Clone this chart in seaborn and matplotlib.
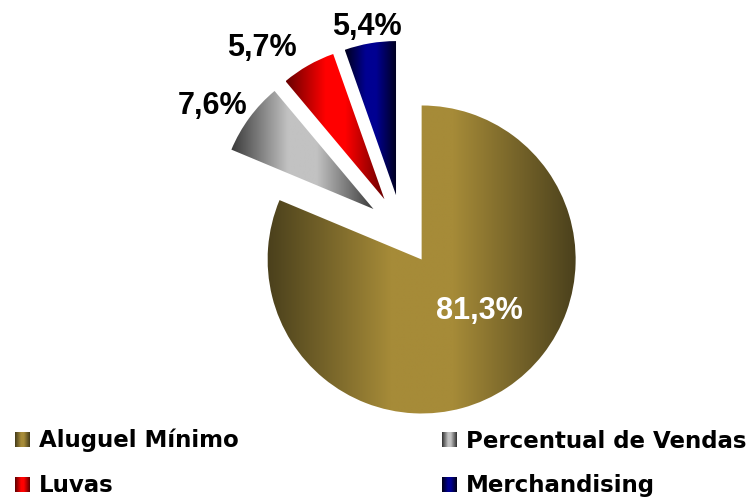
import numpy as np
import matplotlib
matplotlib.use("Agg")
import matplotlib.pyplot as plt
from matplotlib.patches import Rectangle
from matplotlib.legend_handler import HandlerBase
import seaborn as sns

# Composição da receita
categories = ["Aluguel Mínimo", "Percentual de Vendas", "Luvas", "Merchandising"]
shares = [81.3, 7.6, 5.7, 5.4]
value_labels = ["81,3%", "7,6%", "5,7%", "5,4%"]

# Cylinder-style shading: dark edges, light middle
light_colors = ["#A68B38", "#C2C2C2", "#FF0000", "#000092"]
dark_colors = ["#4A401C", "#3A3A3A", "#680000", "#00001C"]
label_colors = ["white", "black", "black", "black"]
label_radius = [0.73, 1.47, 1.49, 1.34]
label_turn = [10, 3, 8, 0]

sns.set_theme(style="white")
plt.rcParams["font.family"] = ["Liberation Sans", "DejaVu Sans"]

W, H = 756, 497
R_PX = 154.0
CX, CY = 402.0, 230.0  # pie centre in pixels (from top-left)

fig = plt.figure(figsize=(W / 100, H / 100), dpi=100)
ax = fig.add_axes([0, 0, 1, 1])

wedges, _ = ax.pie(
    shares,
    startangle=90,
    counterclock=False,
    radius=1.0,
    center=(0, 0),
    explode=[0.23] * len(shares),
    wedgeprops=dict(facecolor="none", edgecolor="none", linewidth=0),
)


def shade(dark, light, n=256, ramp=0.4):
    """Horizontal cylinder shading: linear ramps from dark edges to a light band."""
    pal = np.array(sns.blend_palette([dark, light], n_colors=256))
    t = np.linspace(0, 1, n)
    f = np.clip(np.minimum(t, 1 - t) / ramp, 0, 1)
    return pal[(f * 255).round().astype(int)]


for w, dk, lt in zip(wedges, dark_colors, light_colors):
    verts = w.get_patch_transform().transform(w.get_path().vertices)
    x0, y0 = verts.min(axis=0)
    x1, y1 = verts.max(axis=0)
    grad = shade(dk, lt)[np.newaxis, :, :].repeat(2, axis=0)
    im = ax.imshow(grad, extent=(x0, x1, y0, y1), aspect="auto",
                   interpolation="bilinear", zorder=1)
    im.set_clip_path(w)

for w, txt, col, rf, turn in zip(wedges, value_labels, label_colors,
                                  label_radius, label_turn):
    mid = np.deg2rad((w.theta1 + w.theta2) / 2 + turn)
    ax.text(rf * np.cos(mid), rf * np.sin(mid), txt, color=col,
            fontsize=22, fontweight="bold", ha="center", va="center", zorder=3)


class GradientSquare(HandlerBase):
    def __init__(self, dark, light, n=15):
        super().__init__()
        self.cols = shade(dark, light, n)

    def create_artists(self, legend, orig_handle, xdescent, ydescent,
                       width, height, fontsize, trans):
        side = min(width, height)
        x0 = -xdescent + (width - side) / 2
        y0 = -ydescent + (height - side) / 2
        n = len(self.cols)
        strip = side / n
        arts = []
        for i, c in enumerate(self.cols):
            arts.append(Rectangle((x0 + i * strip, y0), strip * 1.05, side,
                                  facecolor=c, edgecolor="none",
                                  transform=trans))
        return arts


handles = [Rectangle((0, 0), 1, 1) for _ in categories]
hmap = {h: GradientSquare(d, l) for h, d, l in zip(handles, dark_colors, light_colors)}
order = [0, 2, 1, 3]
leg = ax.legend(
    [handles[i] for i in order], [categories[i] for i in order],
    handler_map=hmap, ncol=2, frameon=False,
    loc="upper left", bbox_to_anchor=(15 / W, 1 - 429 / H),
    borderpad=0, borderaxespad=0,
    prop=dict(family="DejaVu Sans", size=16.5, weight="bold"),
    labelcolor="black",
    handlelength=0.65, handleheight=0.65, handletextpad=0.4,
    columnspacing=8.85, labelspacing=0.95,
)

ax.set_xlim(-CX / R_PX, (W - CX) / R_PX)
ax.set_ylim(-(H - CY) / R_PX, CY / R_PX)
ax.set_aspect("auto")
ax.axis("off")

fig.savefig("out.png", dpi=100)
